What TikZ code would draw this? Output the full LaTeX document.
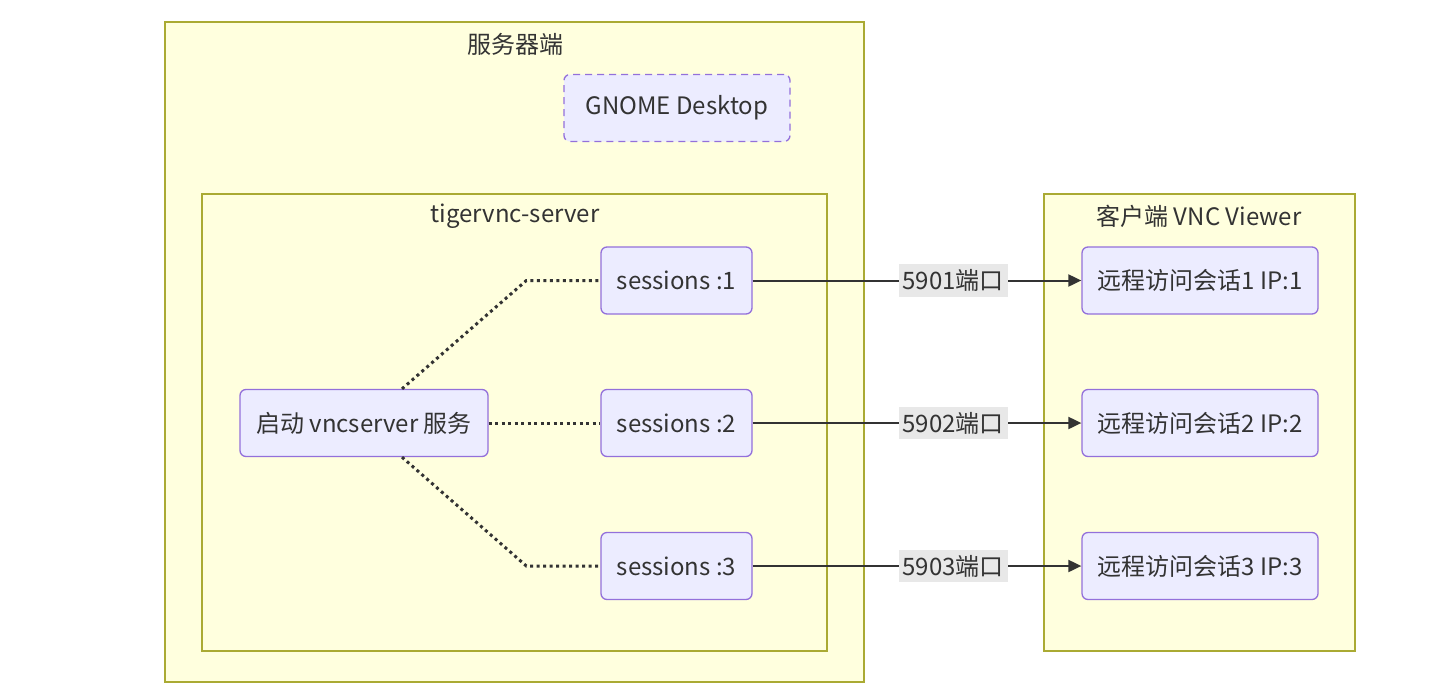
\documentclass[tikz,border=0pt]{standalone}
\usepackage{fontspec}
\setmainfont{Noto Sans CJK SC}
\usepackage{tikz}
\usetikzlibrary{positioning,arrows.meta}
\definecolor{clusterfill}{HTML}{FFFFDE}
\definecolor{clusterline}{HTML}{AAAA33}
\definecolor{boxfill}{HTML}{ECECFF}
\definecolor{boxline}{HTML}{9370DB}
\definecolor{ink}{HTML}{333333}
\definecolor{lblfill}{HTML}{E8E8E8}

\begin{document}
\begin{tikzpicture}[x=1pt,y=-1pt,
    every node/.style={font=\fontsize{24}{28}\selectfont, text=ink},
    cluster/.style={draw=clusterline, fill=clusterfill, line width=1.3pt},
    box/.style={draw=boxline, fill=boxfill, rounded corners=6pt, line width=1.3pt, minimum height=67pt, inner sep=0pt},
    dotline/.style={draw=ink, line width=3pt, dash pattern=on 3pt off 3.5pt},
    arr/.style={draw=ink, line width=2pt, -{Triangle[length=13pt,width=12pt]}},
    lbl/.style={fill=lblfill, inner xsep=4pt, inner ysep=5pt}]
      \fill[white] (0,0) rectangle (1456,694);
      \useasboundingbox (0,0) rectangle (1456,694);
      \draw[cluster] (165,22) rectangle (864,682);
      \node (srvtitle) at (515,44) {服务器端};
      \node[box, dashed, dash pattern=on 7pt off 5pt, minimum width=226pt] (gnome) at (677,108) {GNOME Desktop};
      \draw[cluster] (202,194) rectangle (827,651);
      \node (tigertitle) at (515,216) {tigervnc-server};
      \draw[cluster] (1044,194) rectangle (1355,651);
      \node (clienttitle) at (1199,216) {客户端 VNC Viewer};
      \node[box, minimum width=248pt] (vnc) at (364,423) {启动 vncserver 服务};
      \node[box, minimum width=151pt] (s1) at (676.5,280.5) {sessions :1};
      \node[box, minimum width=151pt] (s2) at (676.5,423) {sessions :2};
      \node[box, minimum width=151pt] (s3) at (676.5,566) {sessions :3};
      \node[box, minimum width=236pt] (r1) at (1200,280.5) {远程访问会话1 IP:1};
      \node[box, minimum width=236pt] (r2) at (1200,423) {远程访问会话2 IP:2};
      \node[box, minimum width=236pt] (r3) at (1200,566) {远程访问会话3 IP:3};
      \draw[dotline] ([xshift=38pt]vnc.north) -- ([xshift=-74pt]s1.west) -- (s1.west);
      \draw[dotline] (vnc.east) -- (s2.west);
      \draw[dotline] ([xshift=38pt]vnc.south) -- ([xshift=-74pt]s3.west) -- (s3.west);
      \foreach \i in {1,2,3}
        \draw[arr] (s\i.east) -- node[lbl, pos=0.61] {590\i{}端口} (r\i.west);
    \end{tikzpicture}
\end{document}
